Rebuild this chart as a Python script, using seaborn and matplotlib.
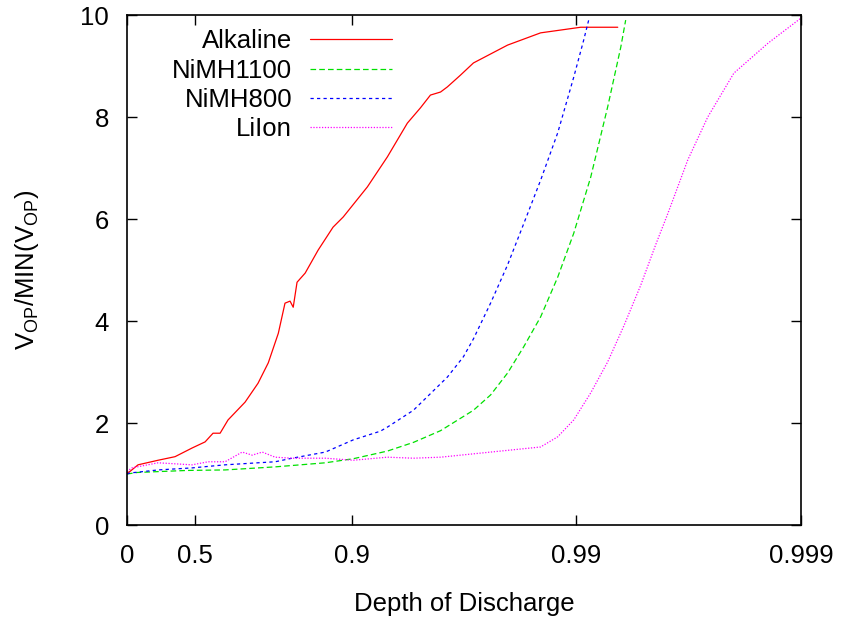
import numpy as np
import pandas as pd
import matplotlib
matplotlib.use("Agg")
import matplotlib.pyplot as plt
import seaborn as sns

# depth of discharge (x) and V_OP/MIN(V_OP) (y)
alk_x = [0.0, 0.03, 0.107, 0.273, 0.389, 0.487, 0.551, 0.586, 0.615, 0.645, 0.702, 0.739,
         0.765, 0.788, 0.802, 0.812, 0.818, 0.825, 0.839, 0.859, 0.879, 0.891, 0.9149,
         0.9307, 0.9435, 0.9506, 0.9554, 0.9598, 0.9625, 0.9672, 0.9713, 0.97977,
         0.98558, 0.99044, 0.99346]
alk_y = [1.02, 1.05, 1.18, 1.27, 1.34, 1.51, 1.63, 1.80, 1.80, 2.06, 2.41, 2.78,
         3.18, 3.76, 4.35, 4.39, 4.27, 4.76, 4.94, 5.39, 5.84, 6.04, 6.63,
         7.22, 7.88, 8.18, 8.43, 8.49, 8.59, 8.82, 9.06, 9.41,
         9.65, 9.76, 9.76]

nimh1100_x = [0.0, 0.1, 0.3, 0.46, 0.634, 0.781, 0.869, 0.9017, 0.9307, 0.9469, 0.9598,
              0.9713, 0.97592, 0.97977, 0.98283, 0.98558, 0.9879, 0.98973, 0.99137,
              0.99275, 0.99366, 0.99397]
nimh1100_y = [1.0, 1.03, 1.05, 1.07, 1.08, 1.14, 1.22, 1.3, 1.45, 1.62, 1.85,
              2.25, 2.55, 2.98, 3.49, 4.08, 4.86, 5.72, 6.82,
              8.2, 9.37, 9.9]

nimh800_x = [0.0, 0.03, 0.273, 0.487, 0.634, 0.739, 0.781, 0.816, 0.869, 0.9017, 0.9255,
             0.9307, 0.9469, 0.9625, 0.9682, 0.9713, 0.97592, 0.97977, 0.98283, 0.98558,
             0.9879, 0.98973, 0.99073, 0.99119]
nimh800_y = [1.0, 1.02, 1.08, 1.12, 1.18, 1.22, 1.24, 1.31, 1.43, 1.67, 1.84,
             1.92, 2.25, 2.9, 3.3, 3.65, 4.35, 5.1, 5.9, 6.76,
             7.69, 8.78, 9.51, 9.9]

liion_x = [0.0, 0.05, 0.273, 0.487, 0.565, 0.634, 0.693, 0.723, 0.75, 0.781, 0.816,
           0.869, 0.9017, 0.9307, 0.9469, 0.9598, 0.97592, 0.98558, 0.9879, 0.98973,
           0.99137, 0.99275, 0.99385, 0.99483, 0.99557, 0.99608, 0.99681, 0.9974,
           0.99801, 0.9986, 0.999]
liion_y = [1.05, 1.12, 1.22, 1.18, 1.24, 1.24, 1.43, 1.37, 1.43, 1.33, 1.31,
           1.31, 1.27, 1.33, 1.31, 1.33, 1.43, 1.53, 1.73, 2.06,
           2.59, 3.2, 3.9, 4.7, 5.5, 6.1, 7.16, 8.0,
           8.86, 9.45, 9.94]

labels = ["Alkaline", "NiMH1100", "NiMH800", "LiIon"]
colors = ["#ff0000", "#00e000", "#0000ff", "#ff00ff"]
styles = ["-", (0, (4.5, 2.5)), (0, (2.6, 2.6)), (0, (1, 1.3))]
xticks = [0, 0.5, 0.9, 0.99, 0.999]
xticklabels = ["0", "0.5", "0.9", "0.99", "0.999"]

sns.set_style("ticks")
plt.rcParams["font.family"] = ["Liberation Sans", "DejaVu Sans"]
plt.rcParams["mathtext.fontset"] = "custom"
plt.rcParams["mathtext.rm"] = "Liberation Sans"
plt.rcParams["mathtext.it"] = "Liberation Sans"
for k in ["text.color", "axes.labelcolor", "xtick.color", "ytick.color", "axes.edgecolor"]:
    plt.rcParams[k] = "black"

fig = plt.figure(figsize=(8.42, 6.2), dpi=100)
ax = fig.add_axes([0.1508, 0.1532, 0.8005, 0.8226])


def fwd(x):
    return -np.log10(np.clip(1 - np.asarray(x, dtype=float), 1e-9, None))


def inv(t):
    return 1 - 10 ** (-np.asarray(t, dtype=float))


ax.set_xscale("function", functions=(fwd, inv))

series = [(alk_x, alk_y), (nimh1100_x, nimh1100_y), (nimh800_x, nimh800_y), (liion_x, liion_y)]
for (xs, ys), lab, c, ls in zip(series, labels, colors, styles):
    df = pd.DataFrame({"dod": xs, "v": ys})
    sns.lineplot(data=df, x="dod", y="v", ax=ax, color=c, linestyle=ls,
                 linewidth=0.9, label=lab, estimator=None, sort=False)

ax.set_xlim(0, 0.999)
ax.set_ylim(0, 10)
ax.set_xticks(xticks)
ax.set_xticklabels(xticklabels)
ax.set_yticks([0, 2, 4, 6, 8, 10])
ax.minorticks_off()
ax.tick_params(direction="in", length=7, width=1, labelsize=18.5, top=True, right=True)
ax.tick_params(axis="x", pad=14)
ax.tick_params(axis="y", pad=13)
for s in ax.spines.values():
    s.set_linewidth(1.2)

ax.set_xlabel("Depth of Discharge", fontsize=18.5, labelpad=17)
ax.set_ylabel(r"V$_\mathrm{OP}$/MIN(V$_\mathrm{OP}$)", fontsize=18.5, labelpad=28)

ax.legend(loc="upper left", bbox_to_anchor=(0.04, 1.007), frameon=False, markerfirst=False,
          fontsize=18.5, handlelength=3.2, handletextpad=0.7, labelspacing=0.2,
          borderaxespad=0.3)
for t in ax.get_legend().get_texts():
    t.set_ha("right")
ax.get_legend()._legend_box.align = "right"

fig.savefig("out.png", dpi=100)
